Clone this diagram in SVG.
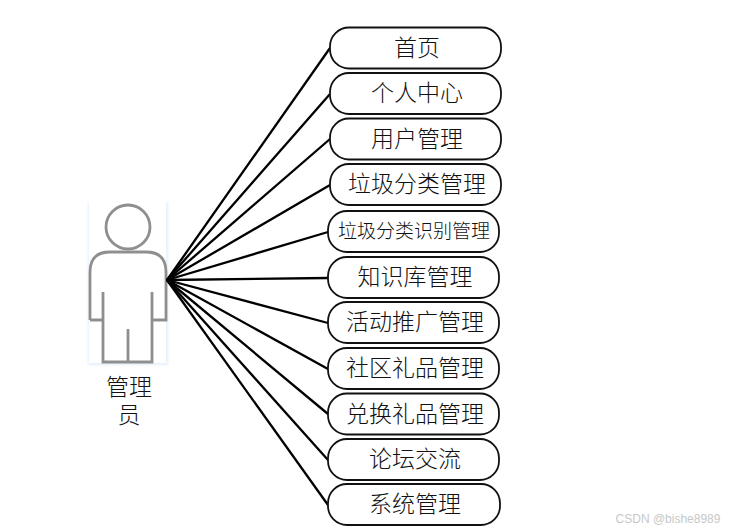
<svg xmlns="http://www.w3.org/2000/svg" width="738" height="532" viewBox="0 0 738 532">
<defs><filter id="soft" x="-10%" y="-10%" width="120%" height="120%"><feGaussianBlur stdDeviation="1.5"/></filter></defs>
<style>
.n rect{fill:#fff;stroke:#111;stroke-width:1.8}
text{font-family:"Noto Sans CJK SC","Liberation Serif",sans-serif;font-weight:300;fill:#111;text-anchor:middle}
.l{font-size:23px}
.c line{stroke:#000;stroke-width:2.3}
.p path,.p circle{fill:none;stroke:#8f8f8f;stroke-width:2.8}
</style>
<rect width="738" height="532" fill="#fff"/>
<g id="actor" class="p">
<rect x="88" y="202" width="80" height="163" fill="#e6effa" filter="url(#soft)"/>
<rect x="89" y="200" width="77" height="163" fill="#fff"/>
<circle cx="128" cy="227" r="22"/>
<path d="M90 320V272Q90 252 110 252H146Q166 252 166 272V320H152M90 320H103M103 292V362H152V292M128 329V362"/>
<text class="l" x="129" y="395">管理<tspan x="129" y="423">员</tspan></text>
</g>
<g id="connectors" class="c">
<line x1="167" y1="280" x2="330" y2="48"/>
<line x1="167" y1="280" x2="330" y2="94"/>
<line x1="167" y1="280" x2="330" y2="139"/>
<line x1="167" y1="280" x2="330" y2="185"/>
<line x1="167" y1="280" x2="328" y2="232"/>
<line x1="167" y1="280" x2="328" y2="278"/>
<line x1="167" y1="280" x2="328" y2="323"/>
<line x1="167" y1="280" x2="328" y2="369"/>
<line x1="167" y1="280" x2="328" y2="414"/>
<line x1="167" y1="280" x2="328" y2="460"/>
<line x1="167" y1="280" x2="328" y2="505"/>
</g>
<g id="n1" class="n"><rect x="330" y="27.500" width="171" height="41" rx="19"/><text class="l" x="417" y="56">首页</text></g>
<g id="n2" class="n"><rect x="330" y="73" width="171" height="41" rx="19"/><text class="l" x="417" y="101">个人中心</text></g>
<g id="n3" class="n"><rect x="330" y="118.500" width="171" height="41" rx="19"/><text class="l" x="417" y="147">用户管理</text></g>
<g id="n4" class="n"><rect x="330" y="164" width="171" height="41" rx="19"/><text class="l" x="417" y="192">垃圾分类管理</text></g>
<g id="n5" class="n"><rect x="328" y="211" width="171" height="41" rx="19"/><text x="414" y="238" font-size="19">垃圾分类识别管理</text></g>
<g id="n6" class="n"><rect x="328" y="257" width="171" height="41" rx="19"/><text class="l" x="415" y="285">知识库管理</text></g>
<g id="n7" class="n"><rect x="328" y="302" width="171" height="41" rx="19"/><text class="l" x="415" y="330">活动推广管理</text></g>
<g id="n8" class="n"><rect x="328" y="348" width="171" height="41" rx="19"/><text class="l" x="415" y="376">社区礼品管理</text></g>
<g id="n9" class="n"><rect x="328" y="393.500" width="171" height="41" rx="19"/><text class="l" x="415" y="422">兑换礼品管理</text></g>
<g id="n10" class="n"><rect x="328" y="439" width="171" height="41" rx="19"/><text class="l" x="415" y="467">论坛交流</text></g>
<g id="n11" class="n"><rect x="328" y="484" width="172" height="41" rx="19"/><text class="l" x="415" y="512">系统管理</text></g>
<text x="668" y="523" font-size="12" style="font-family:'Liberation Sans',sans-serif;font-weight:400;fill:#c8c8c8">CSDN @bishe8989</text>
</svg>
